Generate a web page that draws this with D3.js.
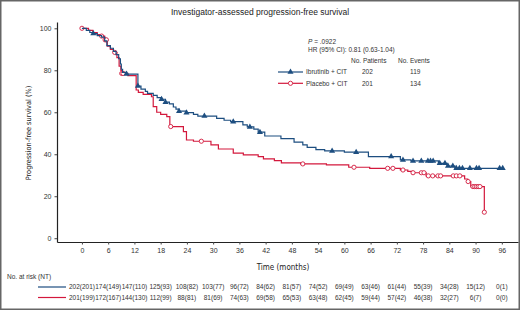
<!DOCTYPE html>
<html>
<head>
<meta charset="utf-8">
<script src="https://cdn.jsdelivr.net/npm/d3@7"></script>
<style>
  body { margin: 0; background: #fff; }
  svg { display: block; font-family: "Liberation Sans", Arial, sans-serif; }
  .tick text { font-size: 7px; fill: #333; }
  .axis-title { font-family: "Liberation Sans Narrow", "DejaVu Sans Condensed", sans-serif; font-size: 8px; fill: #222; }
</style>
</head>
<body>
<div id="chart"></div>
<script>
// Kaplan-Meier steps: [month, survival % after the step]
const ibrutinibSteps = [
  [0, 100], [1.0, 99], [1.8, 98], [2.6, 97.5], [3.5, 96.5], [4.5, 95.8], [5.2, 94], [5.7, 91.7],
  [6.5, 90.5], [7.2, 89], [7.8, 87.5], [8.4, 85.5], [8.8, 83], [9.0, 80.5], [9.3, 79], [10.0, 78.2],
  [12.8, 72.5], [13.5, 71], [14.5, 70], [15.0, 69], [16.3, 68], [17.2, 67], [18.2, 66.2], [19.1, 64.8],
  [20.0, 64], [20.9, 62.5], [21.5, 61.5], [22.2, 60.5], [23.9, 59.8], [25.5, 59], [26.5, 58.2],
  [30.8, 57.1], [32.5, 56.2], [34.0, 55.5], [36.8, 54], [37.8, 53], [39.3, 52], [40.3, 50.5],
  [41.8, 48.7], [45.5, 47.4], [48.5, 45.8], [50.5, 44.5], [51.5, 43.3], [53.5, 42.2], [55.5, 41.6],
  [60.0, 41.0], [65.5, 38.9], [72.8, 37.3], [75.2, 36.8], [81.5, 35.7], [83.5, 34.4], [85.3, 33.3],
  [96.2, 33.3]
];
const ibrutinibCensored = [2.6, 10.2, 12.8, 18.2, 19.1, 22.2, 23.9, 28.0, 34.6, 38.4, 40.7, 57.2,
  62.7, 70.7, 73.4, 75.7, 77.6, 79.1, 79.7, 80.3, 81.8, 83.0, 83.7, 84.8, 85.6, 86.3, 87.0, 88.7,
  90.2, 90.8, 95.5, 96.2];

const placeboSteps = [
  [0, 100], [1.5, 99], [2.5, 98], [3.5, 97], [4.2, 96.3], [5.2, 94.5], [5.8, 91.5], [6.5, 90],
  [7.2, 88.5], [8.0, 86], [8.5, 82], [8.9, 80], [9.1, 78.5], [10.5, 77.5], [12.4, 70.6], [12.9, 69.5],
  [14.0, 68.5], [15.9, 67.4], [16.3, 62.7], [17.1, 60], [18.0, 59], [19.4, 57.9], [20.1, 53.2],
  [23.2, 50.8], [23.9, 46.8], [25.5, 46.2], [29.5, 44.5], [31.2, 42.5], [34.6, 40.5], [36.9, 39.7],
  [40.3, 38.9], [41.5, 37.8], [44.0, 37], [45.6, 35.9], [50.0, 35.4], [55.9, 34.9], [61.0, 33.8],
  [65.8, 33.3], [72.8, 32.5], [74.5, 31.8], [75.5, 31.2], [78.7, 29.7], [87.5, 28.2], [88.2, 27],
  [88.9, 24.6], [92.0, 12.4]
];
const placeboCensored = [0, 4.5, 5.3, 5.6, 7.5, 9.1, 9.4, 20.3, 27.3, 50.5, 62.2, 69.9, 71.1, 73.4,
  75.7, 77.6, 78.2, 79.2, 80.2, 81.4, 82.0, 84.9, 85.6, 86.4, 88.3, 89.4, 89.8, 90.2, 90.6, 91.0, 92.0];

const xTicks = d3.range(0, 97, 6);
const yTicks = [0, 20, 40, 60, 80, 100];

const armNames = ["Ibrutinib + CIT", "Placebo + CIT"];
const armPatients = [202, 201];
const armEvents = [119, 134];
const armColors = ["#1d4e80", "#d3183c"];

const atRiskIbrutinib = ["202(201)", "174(149)", "147(110)", "125(93)", "108(82)", "103(77)", "96(72)",
  "84(62)", "81(57)", "74(52)", "69(49)", "63(46)", "61(44)", "55(39)", "34(28)", "15(12)", "0(1)"];
const atRiskPlacebo = ["201(199)", "172(167)", "144(130)", "112(99)", "88(81)", "81(69)", "74(63)",
  "69(58)", "65(53)", "63(48)", "62(45)", "59(44)", "57(42)", "46(38)", "32(27)", "6(7)", "0(0)"];

const W = 520, H = 310;
const svg = d3.select("#chart").append("svg")
  .attr("width", W).attr("height", H);

// frame round the picture
svg.append("rect")
  .attr("x", 0.75).attr("y", 0.75).attr("width", W - 1.5).attr("height", H - 1.5)
  .attr("fill", "#fff").attr("stroke", "#666").attr("stroke-width", 1.5);

// scales
const x = d3.scaleLinear().domain([-5.7, 99.7]).range([57, 518]);
const y = d3.scaleLinear().domain([-1.8, 103]).range([242, 22]);

// title
svg.append("text")
  .attr("x", 260).attr("y", 15)
  .attr("text-anchor", "middle")
  .style("font-size", "8.5px").attr("fill", "#222")
  .text("Investigator-assessed progression-free survival");

// axes
const xAxis = svg.append("g")
  .attr("transform", `translate(0,${y.range()[0]})`)
  .call(d3.axisBottom(x).tickValues(xTicks).tickSize(2.5).tickSizeOuter(0).tickPadding(4));
const yAxis = svg.append("g")
  .attr("transform", `translate(${x.range()[0]},0)`)
  .call(d3.axisLeft(y).tickValues(yTicks).tickSize(2.5).tickSizeOuter(0).tickPadding(3));
[xAxis, yAxis].forEach(a => {
  a.select(".domain").attr("stroke", "#222").attr("stroke-width", 1.2);
  a.selectAll(".tick line").attr("stroke", "#444");
});

svg.append("text")
  .attr("class", "axis-title")
  .attr("x", 283).attr("y", 270)
  .attr("text-anchor", "middle")
  .text("Time (months)");

svg.append("text")
  .attr("class", "axis-title")
  .style("font-size", "7.3px")
  .attr("transform", `translate(31,${133}) rotate(-90)`)
  .attr("text-anchor", "middle")
  .text("Progression-free survival (%)");

// step curves
function stepValue(steps, t) {
  let v = steps[0][1];
  steps.forEach(s => { if (s[0] <= t) v = s[1]; });
  return v;
}

const line = d3.line()
  .x(d => x(d[0]))
  .y(d => y(d[1]))
  .curve(d3.curveStepAfter);

const curves = [
  {steps: ibrutinibSteps, cens: ibrutinibCensored, color: armColors[0], shape: "triangle"},
  {steps: placeboSteps, cens: placeboCensored, color: armColors[1], shape: "circle"}
];

function drawMarker(g, shape, color, cx, cy) {
  if (shape === "triangle") {
    g.append("path")
      .attr("d", d3.symbol(d3.symbolTriangle, 16)())
      .attr("transform", `translate(${cx},${cy})`)
      .attr("fill", color);
  } else {
    g.append("circle")
      .attr("cx", cx).attr("cy", cy).attr("r", 2.1)
      .attr("fill", "#fff").attr("stroke", color).attr("stroke-width", 0.9);
  }
}

// red first so the blue sits on top
[curves[1], curves[0]].forEach(c => {
  const g = svg.append("g");
  g.append("path")
    .datum(c.steps)
    .attr("fill", "none")
    .attr("stroke", c.color)
    .attr("stroke-width", 1.2)
    .attr("d", line);
  c.cens.forEach(t => drawMarker(g, c.shape, c.color, x(t), y(stepValue(c.steps, t))));
});

// legend
const lg = svg.append("g").style("font-size", "6.5px").attr("fill", "#333");
const pText = lg.append("text").attr("x", 308).attr("y", 44);
pText.append("tspan").style("font-style", "italic").text("P");
pText.append("tspan").text(" = .0922");
lg.append("text").attr("x", 308).attr("y", 52).text("HR (95% CI): 0.81 (0.63-1.04)");
lg.append("text").attr("x", 351).attr("y", 63).text("No. Patients");
lg.append("text").attr("x", 398).attr("y", 63).text("No. Events");

armNames.forEach((name, i) => {
  const cy = 72 + i * 11.3;
  const row = svg.append("g");
  row.append("line")
    .attr("x1", 278).attr("x2", 303).attr("y1", cy).attr("y2", cy)
    .attr("stroke", armColors[i]).attr("stroke-width", 1.2);
  drawMarker(row, i === 0 ? "triangle" : "circle", armColors[i], 290.5, cy);
  row.append("text").attr("x", 306).attr("y", cy + 2.3)
    .style("font-size", "6.5px").attr("fill", "#333").text(name);
  row.append("text").attr("x", 362).attr("y", cy + 2.3)
    .style("font-size", "6.5px").attr("fill", "#333").text(armPatients[i]);
  row.append("text").attr("x", 410).attr("y", cy + 2.3)
    .style("font-size", "6.5px").attr("fill", "#333").text(armEvents[i]);
});

// number at risk table
svg.append("text")
  .attr("x", 7).attr("y", 279)
  .style("font-size", "6.5px").attr("fill", "#333")
  .text("No. at risk (NT)");

[atRiskIbrutinib, atRiskPlacebo].forEach((vals, i) => {
  const cy = 287 + i * 10.5;
  svg.append("line")
    .attr("x1", 38).attr("x2", 66).attr("y1", cy).attr("y2", cy)
    .attr("stroke", armColors[i]).attr("stroke-width", 1.2);
  svg.append("g").selectAll("text")
    .data(vals)
    .join("text")
    .attr("x", (d, j) => x(xTicks[j]))
    .attr("y", cy + 2.4)
    .attr("text-anchor", "middle")
    .style("font-size", "6.5px").attr("fill", "#333")
    .text(d => d);
});
</script>
</body>
</html>
